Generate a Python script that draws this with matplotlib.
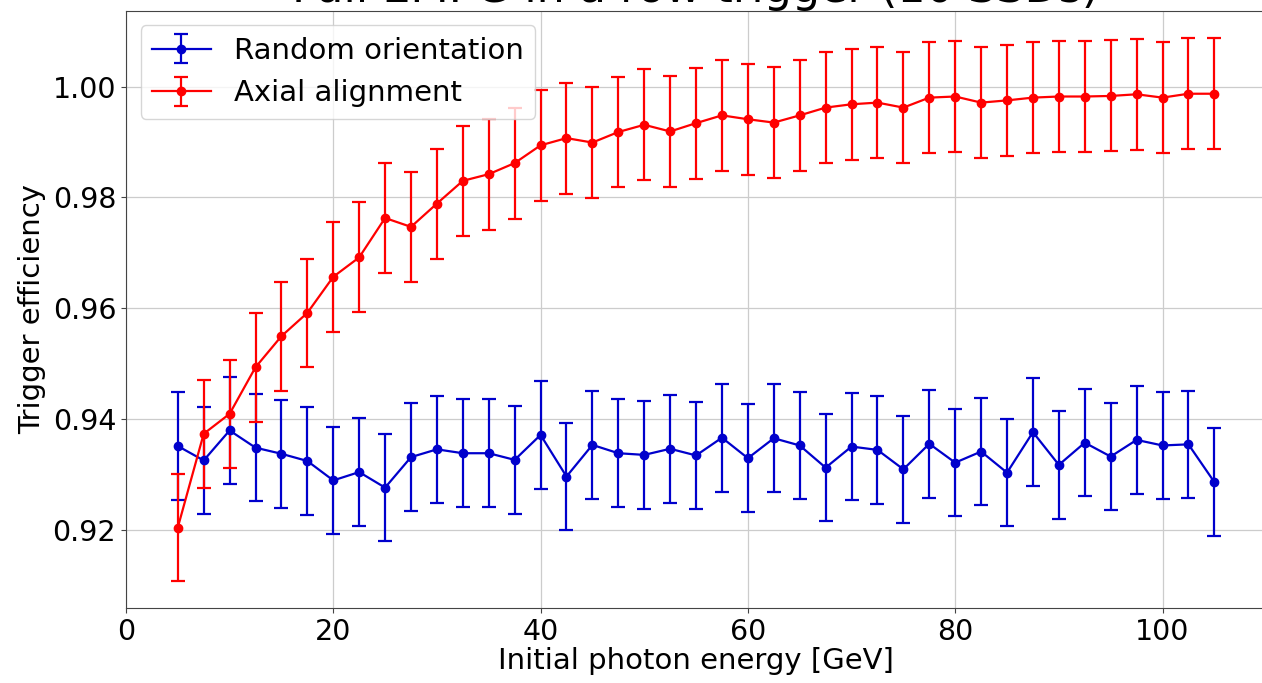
import matplotlib
matplotlib.use("Agg")
import matplotlib.pyplot as plt
import numpy as np

# photon energies [GeV]
energy = [5, 7.5, 10, 12.5, 15, 17.5, 20, 22.5, 25, 27.5, 30, 32.5, 35, 37.5, 40,
          42.5, 45, 47.5, 50, 52.5, 55, 57.5, 60, 62.5, 65, 67.5, 70, 72.5, 75, 77.5,
          80, 82.5, 85, 87.5, 90, 92.5, 95, 97.5, 100, 102.5, 105]

# random orientation
eff_random = [0.9352, 0.9326, 0.9380, 0.9349, 0.9338, 0.9325, 0.9290, 0.9305, 0.9277,
              0.9332, 0.9346, 0.9339, 0.9339, 0.9327, 0.9372, 0.9297, 0.9354, 0.9339,
              0.9336, 0.9347, 0.9335, 0.9367, 0.9330, 0.9366, 0.9353, 0.9313, 0.9351,
              0.9345, 0.9310, 0.9356, 0.9322, 0.9342, 0.9304, 0.9377, 0.9318, 0.9358,
              0.9333, 0.9363, 0.9353, 0.9355, 0.9287]
err_random = [0.0097] * len(energy)

# axial alignment
eff_axial = [0.9205, 0.9374, 0.9410, 0.9494, 0.9550, 0.9592, 0.9657, 0.9692, 0.9763,
             0.9747, 0.9789, 0.9830, 0.9842, 0.9862, 0.9894, 0.9907, 0.9899, 0.9918,
             0.9931, 0.9919, 0.9934, 0.9948, 0.9941, 0.9935, 0.9948, 0.9962, 0.9968,
             0.9971, 0.9962, 0.9980, 0.9982, 0.9971, 0.9975, 0.9980, 0.9982, 0.9982,
             0.9983, 0.9986, 0.9980, 0.9987, 0.9987]
err_axial = [0.0096, 0.0097, 0.0097, 0.0098, 0.0098, 0.0098, 0.0099, 0.0099, 0.0099,
             0.0099, 0.0099, 0.0099, 0.0100, 0.0100, 0.0100, 0.0100, 0.0100, 0.0100,
             0.0100, 0.0100, 0.0100, 0.0100, 0.0100, 0.0100, 0.0100, 0.0100, 0.0100,
             0.0100, 0.0100, 0.0100, 0.0100, 0.0100, 0.0100, 0.0100, 0.0100, 0.0100,
             0.0100, 0.0100, 0.0100, 0.0100, 0.0100]

fig = plt.figure(figsize=(12.62, 6.83), dpi=100)
ax = fig.add_axes([0.0998, 0.1098, 0.9035, 0.8748])

ax.errorbar(energy, eff_random, yerr=err_random, fmt='o-', color='#0000cc',
            markersize=6, linewidth=1.6, elinewidth=1.6, capsize=5, capthick=1.6,
            label='Random orientation')
ax.errorbar(energy, eff_axial, yerr=err_axial, fmt='o-', color='#ff0000',
            markersize=6, linewidth=1.6, elinewidth=1.6, capsize=5, capthick=1.6,
            label='Axial alignment')

ax.set_xlim(0, 110)
ax.set_ylim(0.906, 1.0137)
ax.set_xticks([0, 20, 40, 60, 80, 100])
ax.set_yticks([0.92, 0.94, 0.96, 0.98, 1.00])
ax.tick_params(labelsize=20.5, color='#444444')
for sp in ax.spines.values():
    sp.set_color('#444444')
ax.grid(True, color='#cccccc', linewidth=0.9)
ax.set_axisbelow(True)

ax.set_xlabel('Initial photon energy [GeV]', fontsize=21, labelpad=1)
ax.set_ylabel('Trigger efficiency', fontsize=21, labelpad=5)
ax.set_title('Full EMPG in a row trigger (10 SSDs)', fontsize=32, pad=3)
ax.legend(loc='upper left', fontsize=21)

fig.savefig('out.png', dpi=100)
